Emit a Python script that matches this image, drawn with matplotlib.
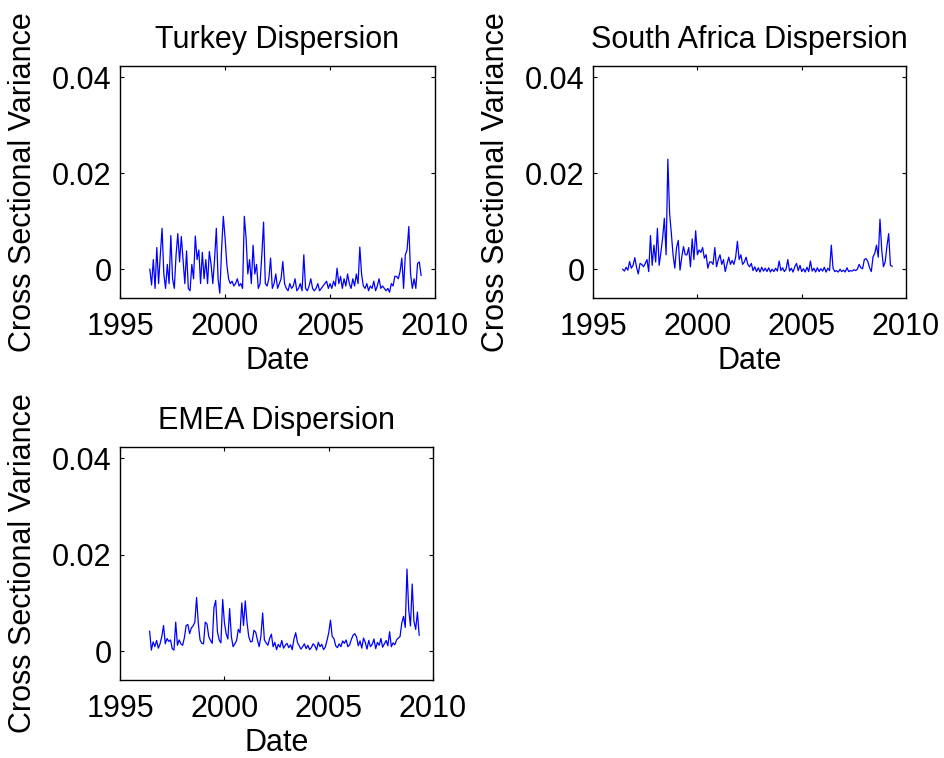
import numpy as np
import matplotlib
matplotlib.use("Agg")
import matplotlib.pyplot as plt

plt.rcParams['font.family'] = ['Liberation Sans', 'DejaVu Sans']

# monthly observations, June 1996 .. May 2009 (decimal years)
start_year = 1996.42
n_obs = 156

turkey = [
    # 1996
    0.0, -0.0033, 0.002, -0.004, 0.0045, -0.003, 0.003,
    # 1997
    0.0085, -0.001, -0.004, 0.001, -0.003, 0.007, -0.002, -0.004, 0.003, 0.0074, 0.0015, 0.0068,
    # 1998
    0.002, -0.003, 0.0038, -0.004, -0.0045, 0.001, -0.002, 0.0069, 0.002, 0.004, -0.003, 0.0035,
    # 1999
    -0.002, 0.002, -0.003, 0.0037, 0.001, -0.003, 0.002, 0.0085, -0.002, -0.005, 0.004, 0.011,
    # 2000
    0.0065, 0.001, -0.002, -0.003, -0.0025, -0.0035, -0.003, -0.002, -0.0035, -0.003, -0.004, 0.011,
    # 2001
    0.0065, -0.001, 0.002, -0.003, 0.005, -0.001, 0.001, -0.004, -0.003, 0.003, 0.0098, -0.003,
    # 2002
    -0.0035, -0.002, 0.0023, -0.004, -0.003, -0.001, -0.004, -0.003, -0.002, 0.0016, -0.003, -0.004,
    # 2003
    -0.0045, -0.003, -0.004, -0.0035, -0.002, -0.0045, -0.004, -0.003, -0.0045, 0.003, -0.004, -0.0045,
    # 2004
    -0.0035, -0.002, -0.004, -0.0045, -0.004, -0.003, -0.0045, -0.004, -0.0035, -0.003, -0.0025, -0.004,
    # 2005
    -0.003, -0.004, -0.0025, -0.0035, 0.0002, -0.003, -0.0015, -0.004, -0.002, -0.0035, -0.001, -0.003,
    # 2006
    -0.004, -0.002, -0.0035, -0.001, -0.003, 0.0046, -0.001, -0.0035, -0.004, -0.003, -0.0045, -0.0035,
    # 2007
    -0.004, -0.0025, -0.0045, -0.0035, -0.002, -0.004, -0.0035, -0.004, -0.0045, -0.004, -0.0048, -0.003,
    # 2008
    -0.0035, -0.0015, -0.0015, -0.002, -0.0005, 0.0023, -0.004, 0.003, 0.004, 0.0089, -0.001, -0.004,
    # 2009
    -0.002, -0.004, 0.0012, 0.0015, -0.0013,
]

south_africa = [
    # 1996
    0.0, -0.0004, 0.0004, -0.0002, 0.0016, 0.0002, 0.0008,
    # 1997
    0.0024, 0.0004, -0.001, 0.0012, 0.001, 0.0005, 0.0012, 0.002, -0.0005, 0.007, 0.0008, 0.005,
    # 1998
    0.0015, 0.0085, 0.0008, 0.0035, 0.0065, 0.0106, 0.003, 0.0229, 0.0117, 0.0075, 0.003, 0.0002,
    # 1999
    0.0045, 0.006, -0.0002, 0.0025, 0.0047, 0.003, 0.003, 0.0045, 0.0005, 0.0063, 0.002, 0.008,
    # 2000
    0.003, 0.004, 0.0035, 0.0045, 0.0023, 0.003, 0.0002, 0.0015, 0.0015, 0.001, 0.0045, 0.0005,
    # 2001
    0.002, 0.003, 0.001, 0.002, -0.0005, 0.001, 0.0025, 0.001, 0.0018, 0.001, 0.0025, 0.0058,
    # 2002
    0.002, 0.003, 0.001, 0.0015, 0.0025, 0.001, 0.0005, 0.0012, -0.0003, 0.0005, -0.0005, 0.0003,
    # 2003
    -0.0006, 0.0004, -0.0004, 0.0002, -0.0005, 0.0003, -0.0006, 0.0, -0.0005, 0.0002, -0.0004, 0.0017,
    # 2004
    -0.0003, 0.0003, -0.0005, 0.0, 0.002, -0.0004, 0.0002, -0.0006, 0.0005, 0.0012, -0.0003, 0.0008,
    # 2005
    -0.0005, 0.0001, -0.0006, 0.0004, -0.0005, 0.0017, -0.0004, 0.0002, -0.0006, 0.0003, -0.0005, 0.0001,
    # 2006
    -0.0004, 0.0004, -0.0006, 0.0002, -0.0003, 0.005, 0.0002, -0.0005, -0.0003, -0.0006, 0.0, -0.0005,
    # 2007
    -0.0002, -0.0006, 0.0003, -0.0005, -0.0003, -0.0004, -0.0001, -0.0003, 0.0, 0.001, 0.0003, 0.0001,
    # 2008
    0.002, 0.0022, 0.0016, 0.0003, -0.0005, 0.0026, 0.0033, 0.005, 0.0025, 0.0104, 0.004, 0.0005,
    # 2009
    0.0015, 0.0048, 0.0074, 0.0008, 0.0006,
]

emea = [
    # 1996
    0.0041, 0.0002, 0.0019, 0.0009, 0.0022, 0.0006, 0.0015,
    # 1997
    0.003, 0.0053, 0.0015, 0.0026, 0.002, 0.0023, 0.0005, 0.0002, 0.006, 0.0012, 0.0023, 0.0015,
    # 1998
    0.0012, 0.0028, 0.0053, 0.0055, 0.0036, 0.0048, 0.0052, 0.006, 0.0111, 0.0057, 0.0023, 0.0016,
    # 1999
    0.0015, 0.006, 0.0056, 0.003, 0.0022, 0.0016, 0.009, 0.0105, 0.004, 0.0023, 0.0017, 0.0107,
    # 2000
    0.0059, 0.0036, 0.0025, 0.0088, 0.003, 0.0009, 0.0015, 0.0022, 0.0045, 0.0038, 0.01, 0.0053,
    # 2001
    0.0104, 0.006, 0.003, 0.0019, 0.002, 0.0043, 0.0039, 0.0023, 0.0009, 0.0031, 0.0079, 0.0023,
    # 2002
    0.0017, 0.0012, 0.0026, 0.0035, 0.0009, 0.0018, 0.0003, 0.0014, 0.0008, 0.0022, 0.0006, 0.0012,
    # 2003
    0.0016, 0.0007, 0.0013, 0.0003, 0.0025, 0.0038, 0.0018, 0.0011, 0.0004, 0.0009, 0.0015, 0.0005,
    # 2004
    0.0012, 0.0003, 0.0007, 0.0015, 0.0011, 0.0002, 0.0018, 0.0009, 0.0014, 0.0003, 0.0008, 0.0022,
    # 2005
    0.0038, 0.0064, 0.003, 0.0026, 0.0011, 0.0007, 0.0015, 0.0009, 0.0021, 0.0016, 0.0023, 0.0009,
    # 2006
    0.0013, 0.0024, 0.0033, 0.0036, 0.0029, 0.0011, 0.0021, 0.0006, 0.0027, 0.0018, 0.0004, 0.0022,
    # 2007
    0.0009, 0.0014, 0.0025, 0.0005, 0.0018, 0.0012, 0.0026, 0.0008, 0.0015, 0.0022, 0.0011, 0.004,
    # 2008
    0.0009, 0.0017, 0.0013, 0.0023, 0.0027, 0.003, 0.0058, 0.0072, 0.0049, 0.017, 0.0085, 0.0052,
    # 2009
    0.0139, 0.0062, 0.0045, 0.0081, 0.0033,
]

dates = start_year + np.arange(n_obs) / 12.0

x_ticks = [1995, 2000, 2005, 2010]
y_ticks = [0, 0.02, 0.04]
y_tick_labels = ['0', '0.02', '0.04']

panels = [
    ("Turkey Dispersion", turkey, [120, 66, 435, 298]),
    ("South Africa Dispersion", south_africa, [593, 66, 906, 298]),
    ("EMEA Dispersion", emea, [120, 447, 433, 680]),
]

W, H = 945, 758


def make_panel(fig, title, values, box):
    """ one MATLAB-looking subplot, box given in pixels (l, t, r, b) """
    l, t, r, b = box
    ax = fig.add_axes([l / W, 1 - b / H, (r - l) / W, (b - t) / H])
    ax.plot(dates[:len(values)], values, color=(0, 0, 1), lw=0.9)
    ax.set_xlim(1995, 2010)
    ax.set_ylim(-0.006, 0.0423)
    ax.set_xticks(x_ticks)
    ax.set_yticks(y_ticks)
    ax.set_yticklabels(y_tick_labels)
    ax.tick_params(direction='in', length=3, width=0.8, top=True, right=True,
                   labelsize=22, colors='black')
    ax.tick_params(axis='x', pad=10)
    ax.tick_params(axis='y', pad=6)
    for sp in ax.spines.values():
        sp.set_linewidth(1.0)
    ax.set_title(title, fontsize=22, pad=13)
    ax.set_xlabel('Date', fontsize=22, labelpad=3)
    ax.set_ylabel('Cross Sectional Variance', fontsize=22, labelpad=10)
    return ax


fig = plt.figure(figsize=(9.45, 7.58), dpi=100)
for title, values, box in panels:
    make_panel(fig, title, values, box)
fig.savefig('out.png', dpi=100)
